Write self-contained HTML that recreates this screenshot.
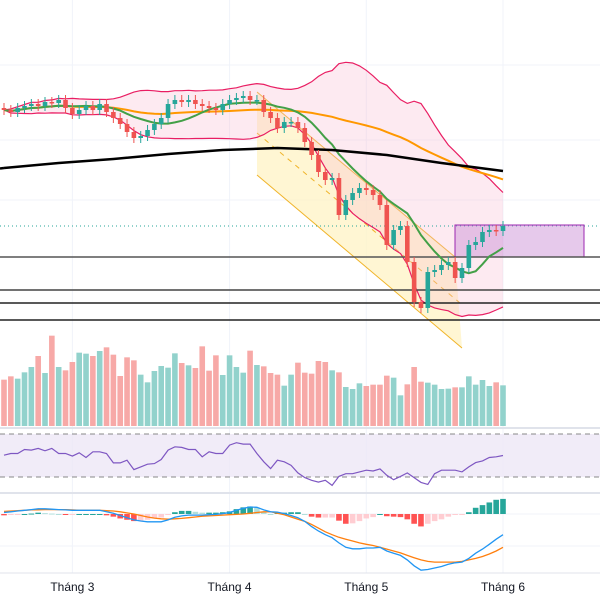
<!DOCTYPE html>
<html><head><meta charset="utf-8">
<style>
html,body{margin:0;padding:0;background:#fff;}
svg{display:block;font-family:"Liberation Sans",sans-serif;}
</style></head>
<body>
<svg id="chart" width="600" height="600" viewBox="0 0 600 600" xmlns="http://www.w3.org/2000/svg">
  <g id="grid"></g>
  <g id="drawings">
    <polygon points="257,92 455,257 462,348 257,175" fill="#fff3c4" opacity="0.75"/>
    <line x1="257" y1="92" x2="455" y2="257" stroke="#f0b429" stroke-width="1"/>
    <line x1="257" y1="175" x2="462" y2="348" stroke="#f0b429" stroke-width="1"/>
    <line x1="257" y1="133" x2="460" y2="303" stroke="#f0b429" stroke-width="1" stroke-dasharray="5,5"/>
  </g>
  <g id="bb"></g>
  <g id="levels">
    <line x1="0" y1="226" x2="600" y2="226" stroke="#26a69a" stroke-width="1" stroke-dasharray="1,3"/>
    <rect x="455" y="225" width="129" height="32" fill="#ce93d8" fill-opacity="0.5" stroke="#9c27b0" stroke-width="1"/>
    <line x1="0" y1="257" x2="600" y2="257" stroke="#555" stroke-width="1.5"/>
    <line x1="0" y1="290" x2="600" y2="290" stroke="#444" stroke-width="1.5"/>
    <line x1="0" y1="303" x2="600" y2="303" stroke="#222" stroke-width="1.5"/>
    <line x1="0" y1="320" x2="600" y2="320" stroke="#222" stroke-width="1.5"/>
  </g>
  <g id="ma"></g>
  <g id="candles"></g>
  <g id="volume"></g>
  <g id="rsi">
    <rect x="0" y="434" width="600" height="43" fill="#ede7f6" opacity="0.8"/>
    <line x1="0" y1="434" x2="600" y2="434" stroke="#888" stroke-dasharray="5,4"/>
    <line x1="0" y1="477" x2="600" y2="477" stroke="#888" stroke-dasharray="5,4"/>
  </g>
  <g id="macd"></g>
  <line x1="0" y1="428" x2="600" y2="428" stroke="#e0e3eb" stroke-width="2"/>
  <line x1="0" y1="493" x2="600" y2="493" stroke="#e0e3eb" stroke-width="2"/>
  <line x1="0" y1="573" x2="600" y2="573" stroke="#e0e3eb" stroke-width="1"/>
  <g id="xlabels"></g>
</svg>
<script>
const closes=[29.0,28.8,29.2,29.4,29.6,29.4,29.8,29.7,30.0,29.2,28.6,29.0,29.4,29.0,29.6,
28.8,28.2,27.6,26.8,26.2,26.4,27.0,27.6,28.2,29.6,30.0,29.8,30.0,29.6,29.4,29.2,29.0,29.6,30.0,30.2,30.4,30.0,30.0,28.8,28.2,
27.2,27.8,27.8,27.2,25.8,24.5,22.8,22.0,22.2,18.5,20.0,20.7,21.2,21.0,20.5,19.5,15.5,17.0,17.4,13.8,9.8,9.2,12.8,13.0,13.5,13.8,12.2,13.2,15.5,15.8,16.8,17.0,16.9,17.4];
const firstOpen=29.2;
const volumes=[139,149,142,161,177,210,159,271,177,167,192,220,217,210,225,236,214,150,206,197,154,131,165,180,175,218,189,182,174,239,166,212,153,212,177,160,226,183,179,159,154,121,154,190,160,157,195,192,167,161,117,111,128,120,124,124,151,145,92,125,177,133,130,124,111,112,116,116,149,124,138,120,131,122];
const rsiValues=[50.3,51.9,51.9,55.6,55,56.6,54.4,56.6,51.9,51.9,49.4,52.5,48.1,53.4,53.4,51.9,43.1,43.1,45.6,36.9,39.4,41.9,42.5,46.3,55,58.1,57.5,55.6,55.6,48.8,53.4,51.9,51.9,59.7,61.9,60.6,60.6,51.9,44.1,37.8,45.6,44.1,40.9,33.8,
29.4,26.9,25.3,26.9,22.2,30.6,33.1,33.1,34.7,36.3,35.6,37.5,31.6,27.5,30.6,33.8,29.4,25,23.1,33.1,36.3,36.3,36.3,34.7,39.4,43.4,45,48.1,48.8,50];
const macdLine=[4,6,8,10,12,14,14,13,12,11,10,10,10,10,10,6,2,-4,-10,-16,-19,-21,-21,-21,-16,-9,-5,-3,-3,-3,-2,-1,1,4,10,15,19,18,11,6,5,1,-4,-10,-20,-34,-46,-56,-64,-78,-90,-94,-94,-92,-92,-90,-100,-106,-112,-124,-140,-152,-150,-146,-142,-136,-132,-130,-120,-106,-95,-82,-68,-56];
const signalLine=[7,8,9,10,11,11,12,12,12,12,11,10,10,10,10,9,8,6,3,0,-4,-8,-11,-13,-14,-13,-12,-10,-8,-6,-5,-4,-3,-2,-1,0,2,4,6,6,2,-2,-8,-14,-20,-28,-38,-48,-56,-63,-68,-73,-78,-82,-85,-90,-95,-100,-105,-112,-118,-124,-128,-130,-130,-130,-130,-128,-124,-120,-115,-108,-100,-90];
const ma200Index=[0,8,16,24,32,40,48,56,64,73];
const ma200Values=[23.2,23.7,24.1,24.6,25.0,25.2,25.0,24.5,23.7,22.9];
const monthLabels=["Tháng 3","Tháng 4","Tháng 5","Tháng 6"];
const monthIndex=[10,33,53,73];

const NS="http://www.w3.org/2000/svg";
const n=closes.length;
const xOf=i=>4+i*(499/(n-1));
const yP=p=>400-p*10;
const yV=v=>426-v/3;
const yR=r=>477-(r-30)/40*43;
const yM=v=>514-v*0.37;
function mk(tag,parent,attrs){const e=document.createElementNS(NS,tag);for(const k in attrs)e.setAttribute(k,attrs[k]);parent.appendChild(e);return e;}
const G=id=>document.getElementById(id);

// grid
const grid=G('grid');
monthIndex.forEach((mi,k)=>{
  const l=mk('line',grid,{x1:xOf(mi),x2:xOf(mi),y1:0,y2:573,stroke:'#f0f3fa','stroke-width':1});
  
  
});
[65,140,200,546].forEach(y=>{
  const l=mk('line',grid,{x1:0,x2:600,y1:y,y2:y,stroke:'#f0f3fa','stroke-width':1});
  
  
});

function sma(arr,p,i){const s=Math.max(0,i-p+1);let t=0;for(let k=s;k<=i;k++)t+=arr[k];return t/(i-s+1);}
function std(arr,p,i){const m=sma(arr,p,i);const s=Math.max(0,i-p+1);let t=0;for(let k=s;k<=i;k++)t+=(arr[k]-m)**2;return Math.sqrt(t/(i-s+1));}
const pts=f=>closes.map((_,i)=>xOf(i).toFixed(1)+','+f(i).toFixed(1)).join(' ');

// bollinger
const bb=G('bb');
const up=closes.map((_,i)=>sma(closes,20,i)+2*std(closes,20,i));
const lo=closes.map((_,i)=>sma(closes,20,i)-2*std(closes,20,i));
let poly=closes.map((_,i)=>xOf(i).toFixed(1)+','+yP(up[i]).toFixed(1));
for(let i=n-1;i>=0;i--)poly.push(xOf(i).toFixed(1)+','+yP(lo[i]).toFixed(1));
const bf=mk('polygon',bb,{points:poly.join(' '),fill:'#f8bbd0','fill-opacity':0.3});


const bu=mk('polyline',bb,{points:pts(i=>yP(up[i])),fill:'none',stroke:'#e91e63','stroke-width':1.2});


const bl=mk('polyline',bb,{points:pts(i=>yP(lo[i])),fill:'none',stroke:'#e91e63','stroke-width':1.2});



// MAs
const ma=G('ma');
const m50=mk('polyline',ma,{points:pts(i=>yP(sma(closes,50,i))),fill:'none',stroke:'#ff9800','stroke-width':2});


const m10=mk('polyline',ma,{points:pts(i=>yP(sma(closes,10,i))),fill:'none',stroke:'#43a047','stroke-width':2});


const m200=mk('polyline',ma,{points:ma200Index.map((ix,k)=>xOf(ix).toFixed(1)+','+yP(ma200Values[k]).toFixed(1)).join(' '),fill:'none',stroke:'#000','stroke-width':2.5});


const m200a=mk('line',ma,{x1:0,y1:yP(ma200Values[0])+0.5,x2:xOf(0),y2:yP(ma200Values[0]),stroke:'#000','stroke-width':2.5});



// candles & volume
const cg=G('candles'),vg=G('volume');
closes.forEach((c,i)=>{
  const o=i?closes[i-1]:firstOpen;
  const upC=c>=o;const col=upC?'#26a69a':'#ef5350';
  const x=xOf(i);
  const w=mk('line',cg,{x1:x,x2:x,y1:yP(Math.max(o,c)+0.5),y2:yP(Math.min(o,c)-0.5),stroke:col,'stroke-width':1});
  
  
  const top=yP(Math.max(o,c)),h=Math.max(1.5,Math.abs(yP(o)-yP(c)));
  const b=mk('rect',cg,{x:x-2.3,y:top,width:4.6,height:h,fill:col});
  
  
  const vy=yV(volumes[i]);
  const v=mk('rect',vg,{x:x-2.8,y:vy,width:5.6,height:426-vy,fill:upC?'#92d2cc':'#f7a9a7'});
  
  
});

// RSI
const rl=mk('polyline',G('rsi'),{points:pts(i=>yR(rsiValues[i])),fill:'none',stroke:'#7e57c2','stroke-width':1.2});



// MACD
const mg=G('macd');
const z=mk('line',mg,{x1:0,x2:600,y1:514,y2:514,stroke:'#f0f3fa'});


const hist=macdLine.map((m,i)=>(m-signalLine[i])*1.2);
hist.forEach((h,i)=>{
  const prev=i?hist[i-1]:0;
  let col=h>=0?(h>=prev?'#26a69a':'#b2dfdb'):(h<prev?'#ff5252':'#ffcdd2');
  const y0=yM(0),y1=yM(h);
  const r=mk('rect',mg,{x:xOf(i)-2.8,y:Math.min(y0,y1),width:5.6,height:Math.max(1,Math.abs(y1-y0)),fill:col});
  
  
});
const sl=mk('polyline',mg,{points:pts(i=>yM(signalLine[i])),fill:'none',stroke:'#ff7f0e','stroke-width':1.3});


const ml=mk('polyline',mg,{points:pts(i=>yM(macdLine[i])),fill:'none',stroke:'#2196f3','stroke-width':1.3});



// labels
const xl=G('xlabels');
monthLabels.forEach((t,k)=>{
  const e=mk('text',xl,{x:xOf(monthIndex[k]),y:591,'text-anchor':'middle','font-size':12,fill:'#131722'});
  e.textContent=t;
  
  
});
</script>
</body></html>
